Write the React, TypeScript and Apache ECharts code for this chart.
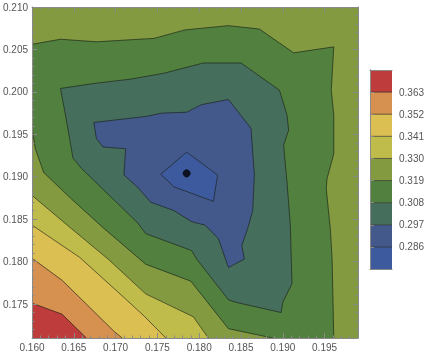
import React, { useEffect, useRef } from 'react';
import * as echarts from 'echarts';

// ---- axis ranges & ticks ----
const X_RANGE = [0.16, 0.199];
const Y_RANGE = [0.171, 0.21];
const X_TICKS = [0.16, 0.165, 0.17, 0.175, 0.18, 0.185, 0.19, 0.195];
const Y_TICKS = [0.175, 0.18, 0.185, 0.19, 0.195, 0.2, 0.205, 0.21];

// ---- contour levels & band colours (low -> high) ----
const LEVELS = [0.286, 0.297, 0.308, 0.319, 0.33, 0.341, 0.352, 0.363];
const LEGEND_RANGE = [0.275, 0.374];
const BAND_COLORS = ['#3e5a9f', '#43598b', '#466e5c', '#52803f', '#849a41', '#bfbc4c', '#dcbf52', '#d6904f', '#be3c3c'];

// ---- contour lines (data coordinates) ----
const C319_TOP = [
  [0.16, 0.2056], [0.1634, 0.2062], [0.1677, 0.2059], [0.1746, 0.2063], [0.1783, 0.2073],
  [0.1835, 0.2078], [0.1872, 0.2074], [0.1913, 0.2046], [0.1961, 0.2053], [0.1958, 0.2002],
  [0.1961, 0.1973], [0.1961, 0.1927], [0.1953, 0.1898], [0.1952, 0.1886], [0.1957, 0.1837],
  [0.1959, 0.1803], [0.1961, 0.171],
];
const C319_LOW = [
  [0.1888, 0.171], [0.1835, 0.1721], [0.179, 0.1777], [0.1736, 0.1797], [0.1685, 0.184],
  [0.1647, 0.1874], [0.1614, 0.1905], [0.1604, 0.1933], [0.16, 0.1957],
];
const C308 = [
  [0.1634, 0.2004], [0.1675, 0.201], [0.1718, 0.2015], [0.1758, 0.2022], [0.1805, 0.2034],
  [0.185, 0.2034], [0.1896, 0.2002], [0.1905, 0.1973], [0.1907, 0.1955], [0.1901, 0.1937],
  [0.1905, 0.1894], [0.1909, 0.1843], [0.1911, 0.1774], [0.19, 0.1752], [0.1898, 0.174],
  [0.1844, 0.1752], [0.1835, 0.1755], [0.1797, 0.1803], [0.1791, 0.1813], [0.1736, 0.1833],
  [0.1726, 0.1846], [0.1659, 0.191], [0.1649, 0.1922], [0.164, 0.1973],
];
const C297 = [
  [0.1674, 0.1964], [0.1736, 0.1971], [0.1756, 0.1975], [0.1785, 0.1976], [0.1803, 0.1985],
  [0.1835, 0.1991], [0.1862, 0.1957], [0.1866, 0.1902], [0.1864, 0.186], [0.1858, 0.1839],
  [0.1851, 0.1819], [0.1854, 0.1803], [0.1835, 0.1793], [0.1823, 0.1827], [0.1807, 0.1843],
  [0.1791, 0.1847], [0.177, 0.186], [0.1742, 0.187], [0.1726, 0.1888], [0.171, 0.1902],
  [0.1712, 0.1933], [0.1685, 0.1935], [0.1677, 0.1945],
];
const C286 = [[0.1754, 0.1903], [0.1785, 0.1929], [0.1822, 0.1902], [0.1817, 0.1871], [0.177, 0.1888]];
const C330 = [[0.16, 0.1878], [0.1647, 0.1839], [0.1691, 0.1803], [0.1736, 0.1762], [0.1793, 0.1735], [0.1811, 0.171]];
const C341 = [[0.16, 0.1843], [0.1657, 0.1805], [0.1703, 0.1764], [0.1734, 0.1736], [0.176, 0.171]];
const C352 = [[0.16, 0.1804], [0.1636, 0.1778], [0.1699, 0.1717], [0.1708, 0.171]];
const C363 = [[0.16, 0.1751], [0.1636, 0.1738], [0.1665, 0.171]];

const MIN_POINT = [0.1785, 0.1904];

const FRAME = '#8a8a8a';
const LABEL = '#555555';
const LINE_COLOR = 'rgba(25,30,20,0.62)';
const FONT = "'Liberation Sans', Arial, sans-serif";

export default function App() {
  const ref = useRef<HTMLDivElement>(null);

  useEffect(() => {
    if (!ref.current) return;
    const chart = echarts.init(ref.current, null, { renderer: 'svg' });
    const [x0, x1] = X_RANGE;
    const [y0, y1] = Y_RANGE;
    const corner = [x0, y0];

    const fills = [
      { pts: [[x0, y0], [x1, y0], [x1, y1], [x0, y1]], color: BAND_COLORS[4] },
      { pts: [...C319_TOP, ...C319_LOW], color: BAND_COLORS[3] },
      { pts: C308, color: BAND_COLORS[2] },
      { pts: C297, color: BAND_COLORS[1] },
      { pts: C286, color: BAND_COLORS[0] },
      { pts: [...C330, corner], color: BAND_COLORS[5] },
      { pts: [...C341, corner], color: BAND_COLORS[6] },
      { pts: [...C352, corner], color: BAND_COLORS[7] },
      { pts: [...C363, corner], color: BAND_COLORS[8] },
    ];
    const openLines = [C319_TOP, C319_LOW, C330, C341, C352, C363];
    const closedLines = [C308, C297, C286];

    const labelStyle = { color: LABEL, fontSize: 10, fontFamily: FONT };
    const fmt = (v: number) => v.toFixed(3);

    const majorX = (position: string, labels: boolean) => ({
      type: 'value', gridIndex: 0, position, min: x0, max: x1, z: 10,
      axisLine: { show: true, lineStyle: { color: FRAME, width: 1 } },
      axisTick: { show: true, inside: true, length: 5, customValues: X_TICKS, lineStyle: { color: FRAME } },
      axisLabel: labels ? { show: true, customValues: X_TICKS, formatter: fmt, margin: 4, ...labelStyle } : { show: false },
      splitLine: { show: false },
    });
    const minorX = (position: string) => ({
      type: 'value', gridIndex: 0, position, min: x0, max: x1, interval: 0.001, z: 10,
      axisLine: { show: false },
      axisTick: { show: true, inside: true, length: 2.5, lineStyle: { color: FRAME } },
      axisLabel: { show: false },
      splitLine: { show: false },
    });
    const majorY = (position: string, labels: boolean) => ({
      type: 'value', gridIndex: 0, position, min: y0, max: y1, z: 10,
      axisLine: { show: true, lineStyle: { color: FRAME, width: 1 } },
      axisTick: { show: true, inside: true, length: 5, customValues: Y_TICKS, lineStyle: { color: FRAME } },
      axisLabel: labels ? { show: true, customValues: Y_TICKS, formatter: fmt, margin: 4, ...labelStyle } : { show: false },
      splitLine: { show: false },
    });
    const minorY = (position: string) => ({
      type: 'value', gridIndex: 0, position, min: y0, max: y1, interval: 0.001, z: 10,
      axisLine: { show: false },
      axisTick: { show: true, inside: true, length: 2.5, lineStyle: { color: FRAME } },
      axisLabel: { show: false },
      splitLine: { show: false },
    });

    const bounds = [LEGEND_RANGE[0], ...LEVELS, LEGEND_RANGE[1]];

    chart.setOption({
      animation: false,
      grid: [
        { left: 28, top: 7, width: 330, height: 331, containLabel: false },
        { left: 370, top: 70, width: 22, height: 199, containLabel: false },
      ],
      xAxis: [
        majorX('bottom', true), minorX('bottom'), majorX('top', false), minorX('top'),
        { type: 'value', gridIndex: 1, position: 'bottom', min: 0, max: 1, z: 10,
          axisLine: { show: true, lineStyle: { color: FRAME } }, axisTick: { show: false }, axisLabel: { show: false }, splitLine: { show: false } },
        { type: 'value', gridIndex: 1, position: 'top', min: 0, max: 1, z: 10,
          axisLine: { show: true, lineStyle: { color: FRAME } }, axisTick: { show: false }, axisLabel: { show: false }, splitLine: { show: false } },
      ],
      yAxis: [
        majorY('left', true), minorY('left'), majorY('right', false), minorY('right'),
        { type: 'value', gridIndex: 1, position: 'right', min: LEGEND_RANGE[0], max: LEGEND_RANGE[1], z: 10,
          axisLine: { show: true, lineStyle: { color: FRAME } },
          axisTick: { show: true, inside: false, length: 4, customValues: LEVELS, lineStyle: { color: FRAME } },
          axisLabel: { show: true, customValues: LEVELS, formatter: fmt, margin: 7, ...labelStyle },
          splitLine: { show: false } },
        { type: 'value', gridIndex: 1, position: 'left', min: LEGEND_RANGE[0], max: LEGEND_RANGE[1], z: 10,
          axisLine: { show: true, lineStyle: { color: FRAME } }, axisTick: { show: false }, axisLabel: { show: false }, splitLine: { show: false } },
      ],
      series: [
        {
          type: 'custom', xAxisIndex: 0, yAxisIndex: 0, clip: true, silent: true,
          data: [[x0, y0]],
          renderItem: (params: any, api: any) => {
            const px = (pts: number[][]) => pts.map((p) => api.coord(p));
            const children: any[] = [];
            fills.forEach((f) => children.push({ type: 'polygon', shape: { points: px(f.pts) }, style: { fill: f.color, stroke: f.color, lineWidth: 0.3 } }));
            openLines.forEach((l) => children.push({ type: 'polyline', shape: { points: px(l) }, style: { stroke: LINE_COLOR, lineWidth: 1, fill: 'none' } }));
            closedLines.forEach((l) => children.push({ type: 'polygon', shape: { points: px(l) }, style: { stroke: LINE_COLOR, lineWidth: 1, fill: 'none' } }));
            return { type: 'group', children };
          },
        },
        {
          type: 'scatter', xAxisIndex: 0, yAxisIndex: 0, data: [MIN_POINT], symbolSize: 8, z: 5,
          itemStyle: { color: '#000000' }, silent: true,
        },
        {
          type: 'custom', xAxisIndex: 4, yAxisIndex: 4, silent: true,
          data: [[0, LEGEND_RANGE[0]]],
          renderItem: (params: any, api: any) => {
            const children: any[] = [];
            for (let i = 0; i < BAND_COLORS.length; i++) {
              const tl = api.coord([0, bounds[i + 1]]);
              const br = api.coord([1, bounds[i]]);
              children.push({ type: 'rect', shape: { x: tl[0], y: tl[1], width: br[0] - tl[0], height: br[1] - tl[1] }, style: { fill: BAND_COLORS[i] } });
            }
            LEVELS.forEach((lv) => {
              const a = api.coord([0, lv]);
              const b = api.coord([1, lv]);
              children.push({ type: 'line', shape: { x1: a[0], y1: a[1], x2: b[0], y2: b[1] }, style: { stroke: LINE_COLOR, lineWidth: 1 } });
            });
            return { type: 'group', children };
          },
        },
      ],
    });
    return () => chart.dispose();
  }, []);

  return <div ref={ref} style={{ position: 'fixed', left: 0, top: 0, width: 430, height: 356 }} />;
}
